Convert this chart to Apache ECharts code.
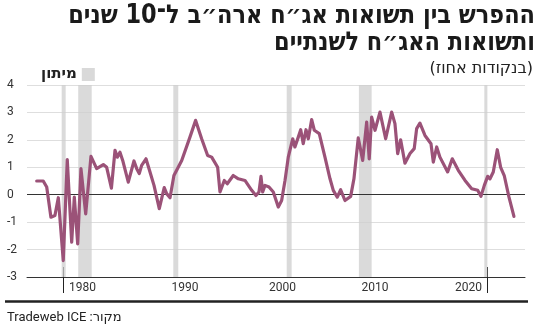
<!DOCTYPE html>
<html><head><meta charset="utf-8">
<script src="https://cdn.jsdelivr.net/npm/echarts@6/dist/echarts.min.js"></script>
<style>html,body{margin:0;padding:0;background:#fff}#c{width:550px;height:328px}</style>
</head><body><div id="c"></div>
<script>
// ---- data ----
const years = [1977.63,1978.25,1978.58,1978.98,1979.36,1979.68,1980.15,1980.53,1980.95,1981.20,1981.52,1981.83,1982.28,1982.78,1983.32,1983.95,1984.27,1984.72,1985.06,1985.28,1985.53,1985.79,1986.32,1986.86,1987.12,1987.36,1987.59,1988.00,1988.38,1988.76,1989.26,1989.73,1989.96,1990.28,1990.65,1991.39,1992.17,1992.71,1993.28,1993.85,1994.23,1994.80,1995.02,1995.43,1995.71,1996.28,1996.76,1997.39,1998.03,1998.43,1998.72,1998.91,1999.07,1999.29,1999.67,2000.08,2000.55,2000.87,2001.19,2001.50,2001.92,2002.13,2002.45,2002.68,2002.92,2003.18,2003.40,2003.72,2003.97,2004.44,2004.98,2005.46,2005.77,2006.15,2006.47,2006.88,2007.42,2007.73,2008.14,2008.56,2008.94,2009.18,2009.41,2009.73,2010.20,2010.74,2011.31,2011.62,2011.88,2012.16,2012.57,2013.05,2013.45,2013.68,2013.99,2014.47,2015.04,2015.26,2015.58,2015.89,2016.62,2017.06,2017.63,2018.27,2018.90,2019.47,2019.78,2020.10,2020.42,2020.64,2020.95,2021.33,2021.65,2021.99,2022.44,2022.91];
const spread = [0.50,0.50,0.28,-0.82,-0.76,-0.11,-2.40,1.28,-1.73,-0.09,-1.79,0.95,-0.70,1.40,0.95,1.10,1.00,0.24,1.62,1.37,1.55,1.25,0.46,1.23,0.95,0.77,1.07,1.31,0.83,0.34,-0.51,0.26,0.04,-0.11,0.70,1.25,2.10,2.71,2.04,1.43,1.37,1.00,0.10,0.52,0.40,0.70,0.58,0.52,0.16,-0.03,0.10,0.67,0.10,0.34,0.28,0.10,-0.45,-0.21,0.52,1.37,2.04,1.74,2.10,2.37,1.86,2.37,2.04,2.74,2.35,2.23,1.37,0.58,0.16,-0.09,0.18,-0.21,-0.06,0.58,2.07,1.25,2.65,1.31,2.83,2.35,3.01,2.04,3.01,2.59,1.50,2.00,1.15,1.50,1.68,2.41,2.61,2.16,1.86,1.19,1.74,1.37,0.83,1.31,0.89,0.52,0.22,0.16,-0.06,0.34,0.67,0.58,0.83,1.64,1.00,0.70,-0.09,-0.79];
const recessionStart = [1980.00, 1981.57, 1990.59, 2001.35, 2008.20, 2020.10];
const recessionEnd   = [1980.38, 1982.85, 1991.06, 2001.82, 2009.41, 2020.39];
const tickLabels = ['1980','1990','2000','2010','2020'];
const tickLabelAnchors = [1981.97, 1991.70, 2000.95, 2009.72, 2018.60];
const boundaryTicks = [1980.15, 2020.37];
const titleLines = ['ההפרש בין תשואות אג״ח ארה״ב ל־10 שנים', 'ותשואות האג״ח לשנתיים'];
const subtitle = '(בנקודות אחוז)';
const legendName = 'מיתון';
const sourceText = 'מקור: Tradeweb ICE';

// ---- chart ----
const RLE = '\u202B', PDF = '\u202C';
const rtl = s => RLE + s + PDF;
const chart = echarts.init(document.getElementById('c'), null, {renderer: 'canvas'});
const XMIN = 1976.71, XMAX = 2023.96;
const condensed = '"DejaVu Sans Condensed", "DejaVu Sans", sans-serif';
const regular = '"DejaVu Sans", sans-serif';
chart.setOption({
  animation: false,
  backgroundColor: '#fff',
  grid: {left: 27, top: 85, width: 498, height: 192, containLabel: false},
  legend: {
    data: [{name: legendName, icon: 'rect'}],
    left: 36, top: 62, align: 'right',
    itemWidth: 13, itemHeight: 13,
    textStyle: {fontFamily: regular, fontWeight: 'bold', fontSize: 15, color: '#222'}
  },
  xAxis: [{
    type: 'value', min: XMIN, max: XMAX, position: 'bottom',
    axisLine: {show: true, onZero: false, lineStyle: {color: '#333', width: 1}},
    axisTick: {show: true, customValues: boundaryTicks, length: 16, lineStyle: {color: '#222', width: 1}},
    axisLabel: {
      show: true, customValues: tickLabelAnchors, margin: 5,
      fontFamily: 'Roboto', fontSize: 12, color: '#333',
      formatter: v => {
        let best = 0;
        tickLabelAnchors.forEach((a, i) => { if (Math.abs(a - v) < Math.abs(tickLabelAnchors[best] - v)) best = i; });
        return tickLabels[best];
      }
    },
    splitLine: {show: false}
  }, {
    type: 'value', min: XMIN, max: XMAX, position: 'bottom', offset: 0,
    axisLine: {show: false, onZero: false},
    axisTick: {show: true, inside: true, customValues: boundaryTicks, length: 10, lineStyle: {color: '#222', width: 1}},
    axisLabel: {show: false},
    splitLine: {show: false}
  }],
  yAxis: {
    type: 'value', min: -3, max: 4, interval: 1,
    axisLine: {show: false}, axisTick: {show: false},
    axisLabel: {align: 'left', margin: 20, fontFamily: 'Roboto', fontSize: 12, color: '#333'},
    splitLine: {show: true, lineStyle: {color: '#dedede', width: 1}}
  },
  series: [{
    name: legendName, type: 'line', data: [],
    itemStyle: {color: '#d9d9d9'}, lineStyle: {color: '#d9d9d9'},
    z: 1, silent: true,
    markArea: {
      silent: true,
      itemStyle: {color: 'rgba(205,205,205,0.75)'},
      data: recessionStart.map((s, i) => [{xAxis: s}, {xAxis: recessionEnd[i]}])
    },
    markLine: {
      silent: true, symbol: 'none', label: {show: false},
      lineStyle: {color: '#333', width: 1, type: 'solid'},
      data: [{yAxis: 0}]
    }
  }, {
    name: 'spread', type: 'line', z: 5,
    data: years.map((y, i) => [y, spread[i]]),
    symbol: 'none', smooth: false,
    lineStyle: {color: '#9b5278', width: 3.2, join: 'round', cap: 'round'}
  }],
  graphic: [
    {type: 'text', x: 535, y: 3, scaleX: 0.96, style: {
      text: titleLines.map(rtl).join('\n'), align: 'right', verticalAlign: 'top',
      font: 'bold 26px ' + condensed, lineHeight: 27, fill: '#1a1a1a'}},
    {type: 'text', x: 533, y: 69, style: {
      text: rtl(subtitle), align: 'right', verticalAlign: 'middle',
      font: '16px ' + regular, fill: '#222'}},
    {type: 'line', shape: {x1: 5, y1: 301.5, x2: 528, y2: 301.5}, style: {stroke: '#222', lineWidth: 2.5}},
    {type: 'text', x: 7, y: 318, style: {
      text: rtl(sourceText), align: 'left', verticalAlign: 'middle',
      font: '13px Roboto, "DejaVu Sans", sans-serif', fill: '#222'}}
  ]
});
</script></body></html>
